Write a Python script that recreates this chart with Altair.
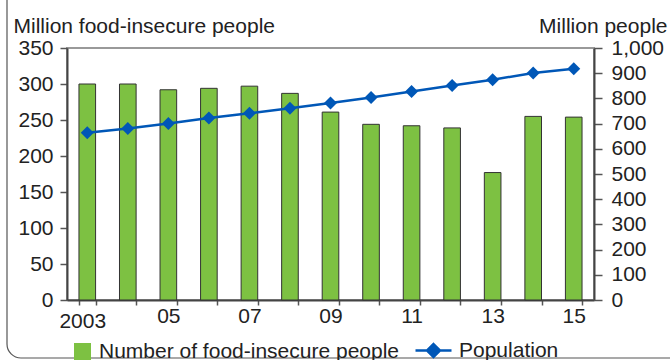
import altair as alt
import pandas as pd

years = [2003, 2004, 2005, 2006, 2007, 2008, 2009, 2010, 2011, 2012, 2013, 2014, 2015]
food_insecure = [300, 300, 292, 294, 297, 287, 261, 244, 242, 239, 177, 255, 254]
population = [664, 681, 700, 722, 741, 761, 782, 804, 827, 851, 874, 901, 918]
tick_labels = ["2003", "", "05", "", "07", "", "09", "", "11", "", "13", "", "15"]
left_ticks = [0, 50, 100, 150, 200, 250, 300, 350]
right_ticks = [0, 100, 200, 300, 400, 500, 600, 700, 800, 900, 1000]
bar_series = "Number of food-insecure people"
line_series = "Population"

FONT = "Liberation Sans"
GREEN = "#7DC142"
BLUE = "#0057B7"
TEXT = "#222222"

df = pd.DataFrame({"year": years, "food": food_insecure, "pop": population})
df["s1"] = bar_series
df["s2"] = line_series

label_expr = " : ".join(
    f"datum.value == {y} ? '{t}'" for y, t in zip(years, tick_labels) if t
) + " : ''"

base = alt.Chart(df).encode(
    x=alt.X(
        "year:O",
        scale=alt.Scale(paddingInner=0.59, paddingOuter=0.295),
        axis=alt.Axis(
            title=None,
            labelExpr=label_expr,
            labelAngle=0,
            tickBand="extent",
            tickSize=5,
            labelPadding={"condition": {"test": "datum.value == 2003", "value": 5}, "value": 0},
            labelOffset={"condition": {"test": "datum.value == 2003", "value": -5}, "value": 0},
        ),
    )
)

bars = base.mark_bar(stroke="#333333", strokeWidth=1).encode(
    y=alt.Y(
        "food:Q",
        scale=alt.Scale(domain=[0, 350], nice=False),
        axis=alt.Axis(
            orient="left",
            values=left_ticks,
            title="Million food-insecure people",
            titleAngle=0,
            titleAlign="left",
            titleBaseline="alphabetic",
            titleX=-54,
            titleY=-16,
            tickSize=7,
            labelPadding=7,
        ),
    ),
    fill=alt.Fill(
        "s1:N",
        scale=alt.Scale(domain=[bar_series], range=[GREEN]),
        legend=alt.Legend(
            title=None,
            orient="none",
            legendX=5,
            legendY=293,
            symbolType="square",
            symbolSize=289,
            symbolStrokeWidth=0,
            labelOffset=6,
        ),
    ),
)

right_axis = alt.Axis(
    orient="right",
    values=right_ticks,
    format=",.0f",
    labelOverlap=False,
    title="Million people",
    titleAngle=0,
    titleAlign="right",
    titleBaseline="alphabetic",
    titleX=73,
    titleY=-16,
    tickSize=8,
    labelPadding=9,
)
right_scale = alt.Scale(domain=[0, 1000], nice=False)

line = base.mark_line(strokeWidth=2.5).encode(
    y=alt.Y("pop:Q", scale=right_scale, axis=right_axis),
    stroke=alt.Stroke(
        "s2:N",
        scale=alt.Scale(domain=[line_series], range=[BLUE]),
        legend=alt.Legend(
            title=None,
            orient="none",
            legendX=347,
            legendY=283,
            symbolType="M-1,0L1,0M0,-0.36L0.36,0L0,0.36L-0.36,0Z",
            symbolSize=1296,
            symbolFillColor=BLUE,
            symbolStrokeWidth=2.5,
            labelOffset=6,
        ),
    ),
)

points = base.mark_point(shape="diamond", filled=True, size=169, color=BLUE, opacity=1).encode(
    y=alt.Y("pop:Q", scale=right_scale, axis=right_axis)
)

frame = alt.Chart(pd.DataFrame({"a": [0]})).mark_rect(
    fill="transparent", stroke="#555555", strokeWidth=1.2, cornerRadius=14
).encode(
    x=alt.value(-60), x2=alt.value(640), y=alt.value(-100), y2=alt.value(310)
)

chart = (
    alt.layer(frame, bars, alt.layer(line, points))
    .resolve_scale(y="independent")
    .properties(
        width=527,
        height=252,
        autosize=alt.AutoSizeParams(type="none"),
        padding={"left": 67, "top": 48, "right": 76, "bottom": 60},
    )
    .configure_view(stroke="#999999", strokeWidth=2)
    .configure_axis(
        domainColor="#444444",
        domainWidth=2,
        tickColor="#555555",
        tickWidth=1.5,
        grid=False,
        labelFont=FONT,
        labelFontSize=21,
        labelColor=TEXT,
        titleFont=FONT,
        titleFontSize=21,
        titleFontWeight="normal",
        titleColor=TEXT,
    )
    .configure_legend(
        labelFont=FONT,
        labelFontSize=21,
        labelColor=TEXT,
        labelLimit=0,
    )
)

chart.save("out.html", embed_options={"renderer": "svg", "actions": False})
